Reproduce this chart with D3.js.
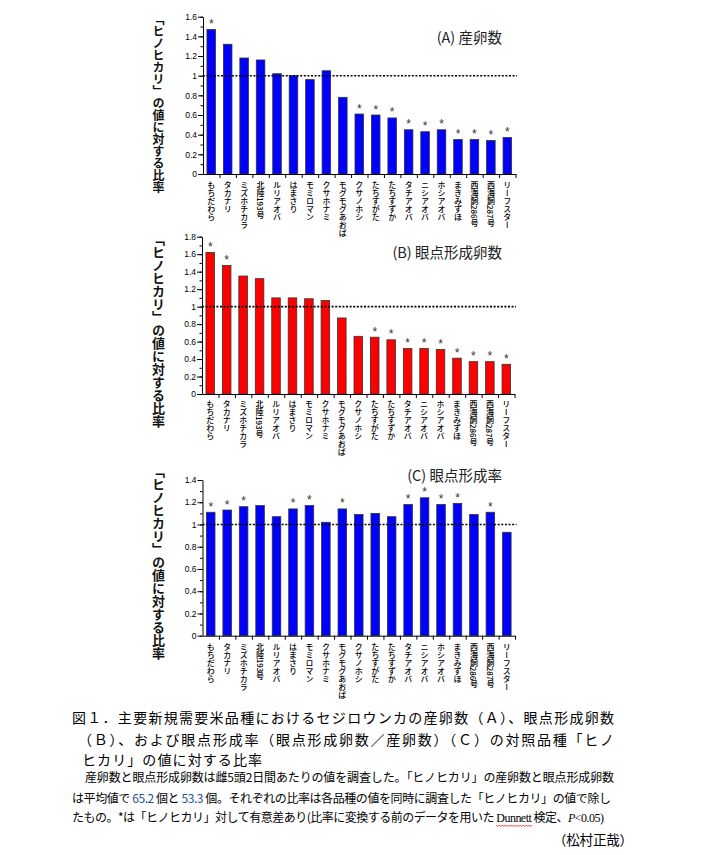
<!DOCTYPE html>
<html><head><meta charset="utf-8">
<script src="https://cdn.jsdelivr.net/npm/d3@7"></script>
<style>
html,body{margin:0;padding:0;background:#fff;}
svg{display:block;}
.cjk{font-family:"Noto Sans CJK JP","Noto Sans CJK SC",sans-serif;}
</style></head>
<body>
<svg id="chart" width="705" height="855"></svg>
<script>
// ---------------- data ----------------
const categories = ["もちだわら","タカナリ","ミズホチカラ","北陸193号","ルリアオバ","はまさり","モミロマン","クサホナミ","モグモグあおば","クサノホシ","たちすがた","たちすずか","タチアオバ","ニシアオバ","ホシアオバ","まきみずほ","西海飼286号","西海飼287号","リーフスター"];
const valuesA = [1.47,1.32,1.18,1.16,1.02,1.00,0.96,1.05,0.78,0.61,0.60,0.57,0.45,0.43,0.45,0.35,0.35,0.34,0.37];
const sigA    = [1,0,0,0,0,0,0,0,0,1,1,1,1,1,1,1,1,1,1];
const valuesB = [1.62,1.47,1.35,1.32,1.10,1.10,1.09,1.07,0.87,0.66,0.65,0.62,0.52,0.52,0.51,0.41,0.37,0.37,0.34];
const sigB    = [1,1,0,0,0,0,0,0,0,0,1,1,1,1,1,1,1,1,1];
const valuesC = [1.11,1.13,1.16,1.17,1.07,1.14,1.17,1.02,1.14,1.09,1.10,1.07,1.18,1.24,1.18,1.19,1.09,1.11,0.93];
const sigC    = [1,1,1,0,0,1,1,0,1,0,0,0,1,1,1,1,0,1,0];
const titles = ["(A) 産卵数","(B) 眼点形成卵数","(C) 眼点形成率"];
const yMaxes = [1.6, 1.8, 1.4];
const yLabel = "「ヒノヒカリ」の値に対する比率";
const refValue = 1;

const captionMain = [
  "図１．主要新規需要米品種におけるセジロウンカの産卵数（Ａ）、眼点形成卵数",
  "（Ｂ）、および眼点形成率（眼点形成卵数／産卵数）（Ｃ）の対照品種「ヒノ",
  "ヒカリ」の値に対する比率"
];
const author = "（松村正哉）";

// ---------------- layout ----------------
const svg = d3.select("#chart");
const panels = [
  {vals: valuesA, sig: sigA, color:"#0000ff", x0:203, yTop:16.7, yBot:174, titleY:43, labelY:13, labelFs:12, xlabOff:7},
  {vals: valuesB, sig: sigB, color:"#ff0000", x0:202, yTop:236.7, yBot:394, titleY:258, labelY:233, labelFs:13, xlabOff:6},
  {vals: valuesC, sig: sigC, color:"#0000ff", x0:202.5, yTop:480, yBot:635.7, titleY:481, labelY:465, labelFs:13, xlabOff:7}
];
const step = 16.45;

panels.forEach((p, pi) => {
  const g = svg.append("g");
  const x1 = p.x0 + step * categories.length;
  const x = d3.scaleBand().domain(categories).range([p.x0, x1]).paddingInner(0.48).paddingOuter(0.24);
  const xb = d3.scaleLinear().domain([0, categories.length]).range([p.x0, x1]);
  const y = d3.scaleLinear().domain([0, yMaxes[pi]]).range([p.yBot, p.yTop]);

  // bars
  g.selectAll("rect.bar").data(p.vals).join("rect")
    .attr("x", (d,i) => x(categories[i]))
    .attr("width", x.bandwidth())
    .attr("y", d => y(d))
    .attr("height", d => y(0) - y(d))
    .attr("fill", p.color).attr("stroke", "#333").attr("stroke-width", 0.8);

  // reference line
  g.append("line")
    .attr("x1", p.x0).attr("x2", x1 + 1.5)
    .attr("y1", y(refValue)).attr("y2", y(refValue))
    .attr("stroke", "#000").attr("stroke-width", 1.6).attr("stroke-dasharray", "2,1.6");

  // asterisks
  g.selectAll("text.ast").data(p.vals).join("text")
    .attr("x", (d,i) => x(categories[i]) + x.bandwidth()/2)
    .attr("y", d => y(d) - 1.5)
    .attr("text-anchor", "middle")
    .attr("font-family", "Liberation Sans, Arial, sans-serif")
    .attr("font-size", 12).attr("fill", "#333")
    .text((d,i) => p.sig[i] ? "*" : "");

  // y axis major
  const maxTick = Math.round(yMaxes[pi] * 10);
  const major = d3.range(0, maxTick + 1, 2).map(v => v / 10);
  const minor = d3.range(0, maxTick + 1, 1).map(v => v / 10);
  const yAx = g.append("g").attr("transform", `translate(${p.x0},0)`)
    .call(d3.axisLeft(y).tickValues(major).tickSize(5).tickSizeOuter(0)
      .tickFormat(d => String(+d.toFixed(1))));
  yAx.select(".domain").attr("stroke", "#000");
  yAx.selectAll(".tick line").attr("stroke", "#000");
  yAx.selectAll(".tick text").attr("font-family", "Liberation Sans, Arial, sans-serif")
    .attr("font-size", 8.5).attr("fill", "#000").attr("x", -6);
  g.append("g").attr("transform", `translate(${p.x0},0)`)
    .call(d3.axisLeft(y).tickValues(minor).tickSize(2.5).tickFormat(""))
    .call(s => s.select(".domain").remove())
    .selectAll(".tick line").attr("stroke", "#000");

  // x axis with ticks between bars
  const xAx = g.append("g").attr("transform", `translate(0,${p.yBot})`)
    .call(d3.axisBottom(xb).tickValues(d3.range(1, categories.length + 1)).tickSize(4).tickSizeOuter(0).tickFormat(""));
  xAx.select(".domain").attr("stroke", "#000");
  xAx.selectAll(".tick line").attr("stroke", "#000");

  // x labels (vertical)
  g.selectAll("text.xl").data(categories).join("text")
    .attr("class", "cjk")
    .attr("x", d => x(d) + x.bandwidth()/2)
    .attr("y", p.yBot + p.xlabOff)
    .attr("font-size", 8).attr("font-weight", 500).attr("fill", "#000")
    .style("writing-mode", "vertical-rl")
    .text(d => d);

  // title
  g.append("text").attr("class", "cjk")
    .attr("x", 502).attr("y", p.titleY)
    .attr("text-anchor", "end").attr("font-size", 14.5).attr("fill", "#222")
    .text(titles[pi]);

  // y label (vertical)
  g.append("text").attr("class", "cjk")
    .attr("x", 158.5).attr("y", p.labelY)
    .attr("font-size", p.labelFs).attr("font-weight", 700).attr("fill", "#111")
    .style("writing-mode", "vertical-rl")
    .text(yLabel);
});

// ---------------- caption ----------------
const cap = svg.append("g").attr("class", "cjk").attr("fill", "#000");
const mainPos = [{x:72, y:723, w:542}, {x:78, y:745, w:536}, {x:82, y:765, w:180}];
captionMain.forEach((t, i) => {
  cap.append("text").attr("x", mainPos[i].x).attr("y", mainPos[i].y)
    .attr("font-size", 14).attr("textLength", mainPos[i].w).attr("lengthAdjust", "spacing")
    .text(t);
});

cap.append("text").attr("x", 85).attr("y", 782).attr("font-size", 12)
  .attr("textLength", 529).attr("lengthAdjust", "spacing")
  .text("産卵数と眼点形成卵数は雌5頭2日間あたりの値を調査した。「ヒノヒカリ」の産卵数と眼点形成卵数");

const s2 = cap.append("text").attr("x", 72).attr("y", 803).attr("font-size", 12)
  .attr("textLength", 539).attr("lengthAdjust", "spacing");
s2.append("tspan").text("は平均値で ");
s2.append("tspan").attr("fill", "#1d4f9c").text("65.2");
s2.append("tspan").text(" 個と ");
s2.append("tspan").attr("fill", "#1d4f9c").text("53.3");
s2.append("tspan").text(" 個。それぞれの比率は各品種の値を同時に調査した「ヒノヒカリ」の値で除し");

const s3 = cap.append("text").attr("x", 72).attr("y", 822).attr("font-size", 12)
  .attr("textLength", 532).attr("lengthAdjust", "spacing");
s3.append("tspan").text("たもの。*は「ヒノヒカリ」対して有意差あり(比率に変換する前のデータを用いた ");
s3.append("tspan").attr("font-family", "Liberation Serif, serif").text("Dunnett");
s3.append("tspan").text(" 検定、");
s3.append("tspan").attr("font-family", "Liberation Serif, serif").attr("font-style", "italic").text("P");
s3.append("tspan").attr("font-family", "Liberation Serif, serif").text("<0.05)");

cap.append("text").attr("x", 553).attr("y", 845).attr("font-size", 13.5)
  .attr("textLength", 80).attr("lengthAdjust", "spacing").text(author);

// red wavy underline under "Dunnett"
(function(){
  const node = s3.node();
  const full = node.textContent;
  const idx = full.indexOf("Dunnett");
  if (idx < 0) return;
  try {
    const a = node.getStartPositionOfChar(idx).x;
    const b = node.getEndPositionOfChar(idx + 6).x;
    const yy = 825;
    let d = `M${a},${yy}`;
    for (let xx = a, k = 0; xx < b; xx += 1.5, k++) {
      d += ` L${Math.min(xx + 1.5, b)},${yy + (k % 2 ? 0 : 1.5)}`;
    }
    svg.append("path").attr("d", d).attr("fill", "none").attr("stroke", "#e02020").attr("stroke-width", 0.8);
  } catch(e) {}
})();
</script>
</body></html>
